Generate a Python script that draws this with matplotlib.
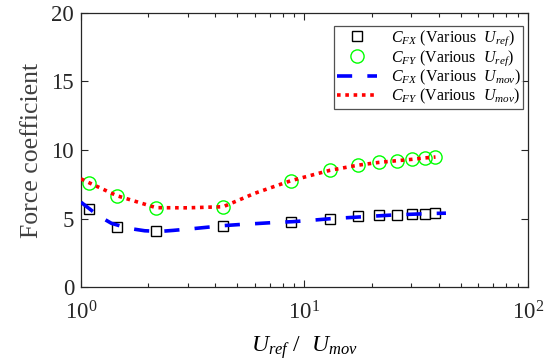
import numpy as np
import matplotlib
matplotlib.use("Agg")
import matplotlib.pyplot as plt

plt.rcParams['font.family'] = ['Liberation Serif', 'DejaVu Serif']
plt.rcParams['mathtext.fontset'] = 'custom'
plt.rcParams['mathtext.rm'] = 'Liberation Serif'
plt.rcParams['mathtext.it'] = 'Liberation Serif:italic'

# values
ratio = [1.086, 1.45, 2.17, 4.33, 8.68, 13.0, 17.3, 21.6, 25.9, 30.3, 34.5, 38.6]
cfx_ref = [5.70, 4.41, 4.12, 4.49, 4.73, 5.00, 5.17, 5.24, 5.29, 5.32, 5.34, 5.39]
cfy_ref = [7.62, 6.67, 5.80, 5.87, 7.76, 8.52, 8.89, 9.10, 9.22, 9.32, 9.42, 9.49]

ratio_cfx_mov = [1.0, 1.2, 1.37, 1.63, 1.93, 2.25, 2.6, 3.2, 3.8, 4.4, 5.2, 6.2,
                 7.3, 8.8, 10.2, 13.1, 18.3, 25.7, 37.5, 43.0]
cfx_mov = [6.20, 5.20, 4.66, 4.30, 4.12, 4.07, 4.15, 4.28, 4.40, 4.50, 4.58, 4.65,
           4.72, 4.78, 4.85, 5.00, 5.14, 5.28, 5.38, 5.40]
ratio_cfy_mov = [1.0, 1.086, 1.45, 2.17, 3.0, 4.33, 6.0, 8.68, 13.0, 17.3, 21.6,
                 25.9, 30.3, 34.5, 38.6]
cfy_mov = [7.90, 7.62, 6.67, 5.80, 5.79, 5.87, 6.85, 7.76, 8.52, 8.89, 9.10,
           9.22, 9.32, 9.42, 9.49]

fig = plt.figure(figsize=(5.47, 3.61), dpi=100)
ax = fig.add_axes([0.148, 0.204, 0.817, 0.761])

ax.plot(ratio, cfx_ref, 's', ms=7.5, mfc='white', mec='black', mew=1.0,
        label=r'$C_{FX}$ (Various  $U_{ref}$)', zorder=2)
ax.plot(ratio, cfy_ref, 'o', ms=9.5, mfc='none', mec=(0, 1, 0), mew=1.0,
        label=r'$C_{FY}$ (Various  $U_{ref}$)', zorder=2)
ax.plot(ratio_cfx_mov, cfx_mov, color='blue', lw=2.6, ls=(0, (4.2, 4.2)),
        label=r'$C_{FX}$ (Various  $U_{mov}$)', zorder=3)
ax.plot(ratio_cfy_mov, cfy_mov, color='red', lw=2.6, ls=(0, (1.0, 1.3)),
        label=r'$C_{FY}$ (Various  $U_{mov}$)', zorder=3)

ax.set_xscale('log')
ax.set_xlim(1, 100)
ax.set_ylim(0, 20)
ax.set_yticks([0, 5, 10, 15, 20])

for s in ax.spines.values():
    s.set_color('#262626')
    s.set_linewidth(0.9)
ax.tick_params(which='both', direction='in', top=True, right=True,
               colors='#262626', labelsize=16.5, width=0.8)
ax.tick_params(which='major', length=5)
ax.tick_params(which='minor', length=3)
ax.tick_params(axis='x', pad=10)
ax.tick_params(axis='y', pad=5)

ax.set_ylabel('Force coefficient', fontsize=18.5, color='#404040', labelpad=6)
ax.set_xlabel(r'$U_{ref}$ /  $U_{mov}$', fontsize=17, labelpad=7)

leg = ax.legend(loc='upper right', bbox_to_anchor=(0.99, 0.95), fontsize=11.5,
                frameon=True, fancybox=False, edgecolor='#262626',
                handlelength=2.5, borderpad=0.15, labelspacing=0.0,
                handletextpad=0.9, borderaxespad=0.0)
leg.get_frame().set_linewidth(0.9)

fig.savefig('out.png', dpi=100)
